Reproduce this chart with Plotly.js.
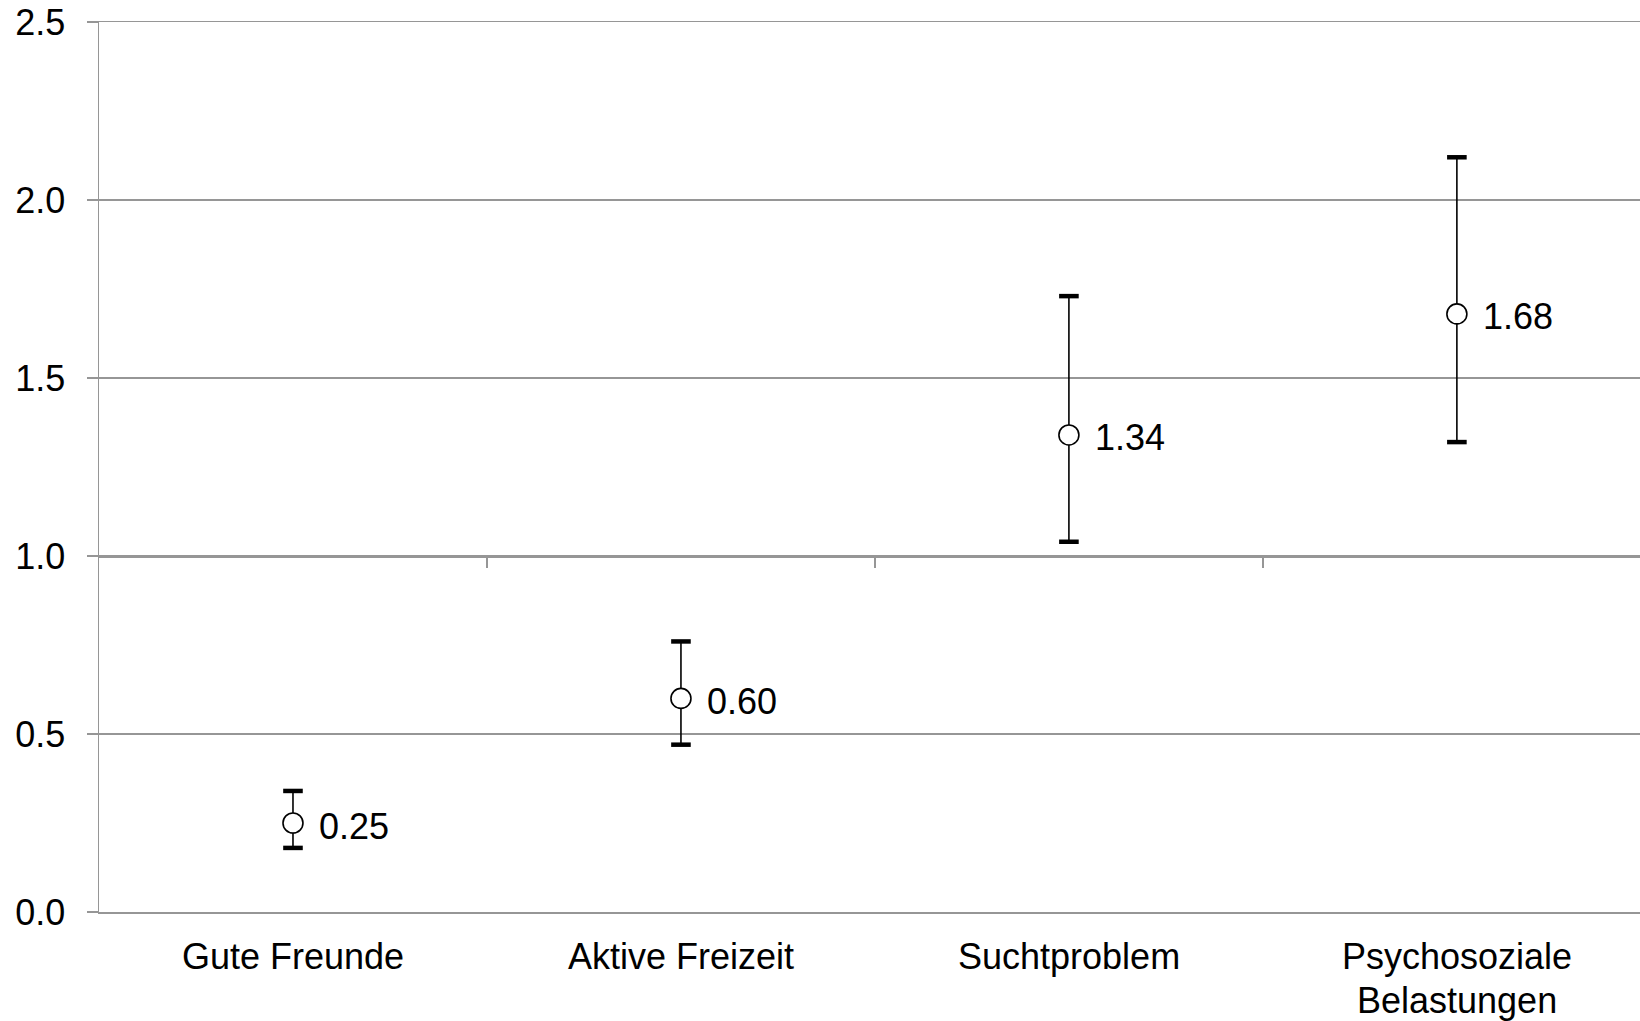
<!DOCTYPE html>
<html>
<head>
<meta charset="utf-8">
<script src="https://cdn.plot.ly/plotly-3.0.1.min.js"></script>
<style>
  html, body { margin: 0; padding: 0; background: #ffffff; overflow: hidden; }
  #chart { width: 1640px; height: 1021px; }
</style>
</head>
<body>
<div id="chart"></div>
<script>
// ---- data ----
const categories = ["Gute Freunde", "Aktive Freizeit", "Suchtproblem", "Psychosoziale<br>Belastungen"];
const means = [0.25, 0.60, 1.34, 1.68];
const upper = [0.34, 0.76, 1.73, 2.12];
const lower = [0.18, 0.47, 1.04, 1.32];
const yTicks = [0, 0.5, 1.0, 1.5, 2.0, 2.5];

// ---- derived ----
const errPlus = means.map((m, i) => upper[i] - m);
const errMinus = means.map((m, i) => m - lower[i]);
const boundaries = categories.slice(1).map((_, i) => i + 0.5);
const xRange = [-0.5, 3.472];
const FONT = "Liberation Sans, Arial, sans-serif";
const GRID = "#969696";

const traces = [
  {
    type: "scatter", mode: "markers", x: categories, y: upper, xaxis: "x", yaxis: "y",
    marker: { symbol: "line-ew", size: 14, line: { width: 4.5, color: "#000" } },
    hoverinfo: "skip", showlegend: false
  },
  {
    type: "scatter", mode: "markers", x: categories, y: lower, xaxis: "x", yaxis: "y",
    marker: { symbol: "line-ew", size: 14, line: { width: 4.5, color: "#000" } },
    hoverinfo: "skip", showlegend: false
  },
  {
    type: "scatter", mode: "markers", x: categories, y: means, xaxis: "x", yaxis: "y",
    error_y: { type: "data", symmetric: false, array: errPlus, arrayminus: errMinus,
               color: "#000", thickness: 1.6, width: 0 },
    marker: { symbol: "circle", size: 20, color: "#ffffff", line: { width: 1.6, color: "#000" } },
    hoverinfo: "skip", showlegend: false
  },
  {
    // invisible helper so the crossing axis (at y = 1.0) is drawn
    type: "scatter", mode: "markers", x: boundaries, y: boundaries.map(() => 1.0),
    xaxis: "x2", yaxis: "y", marker: { opacity: 0 }, hoverinfo: "skip", showlegend: false
  }
];

// value labels next to each point
const valueLabels = categories.map((c, i) => ({
  x: c, y: means[i], xref: "x", yref: "y",
  text: means[i].toFixed(2), showarrow: false,
  xanchor: "left", yanchor: "middle", xshift: 24, yshift: -3,
  font: { family: FONT, size: 36, color: "#000" }
}));

// category labels below the plot (tight line spacing like the original)
const categoryLabels = [];
categories.forEach(c => {
  c.split("<br>").forEach((line, j) => {
    categoryLabels.push({
      x: c, y: 0, xref: "x", yref: "paper",
      text: line, showarrow: false,
      xanchor: "center", yanchor: "top", yshift: -22 - j * 44,
      font: { family: FONT, size: 36, color: "#000" }
    });
  });
});

const layout = {
  width: 1640, height: 1021,
  margin: { l: 99, r: 0, t: 22, b: 108.5, pad: 0 },
  paper_bgcolor: "#ffffff", plot_bgcolor: "#ffffff",
  font: { family: FONT, size: 36, color: "#000" },
  showlegend: false,
  annotations: valueLabels.concat(categoryLabels),
  xaxis: {
    type: "category", range: xRange, anchor: "y",
    showline: true, mirror: true, linecolor: GRID, linewidth: 1.5,
    showgrid: false, zeroline: false, ticks: "", showticklabels: false
  },
  xaxis2: {
    type: "linear", range: xRange, overlaying: "x", anchor: "free", position: 0.4,
    showline: true, linecolor: GRID, linewidth: 1.5,
    showgrid: false, zeroline: false,
    tickmode: "array", tickvals: boundaries, showticklabels: false,
    ticks: "outside", ticklen: 10, tickwidth: 1.5, tickcolor: GRID
  },
  yaxis: {
    range: [0, 2.5], tickmode: "array", tickvals: yTicks, tickformat: ".1f",
    showgrid: true, gridcolor: GRID, gridwidth: 1.5,
    zeroline: false, showline: true, linecolor: GRID, linewidth: 1.5,
    ticks: "outside", ticklen: 11, tickwidth: 1.5, tickcolor: GRID,
    tickfont: { family: FONT, size: 36, color: "#000" },
    ticklabelstandoff: 14
  }
};

Plotly.newPlot("chart", traces, layout, { displayModeBar: false, staticPlot: true });
</script>
</body>
</html>
